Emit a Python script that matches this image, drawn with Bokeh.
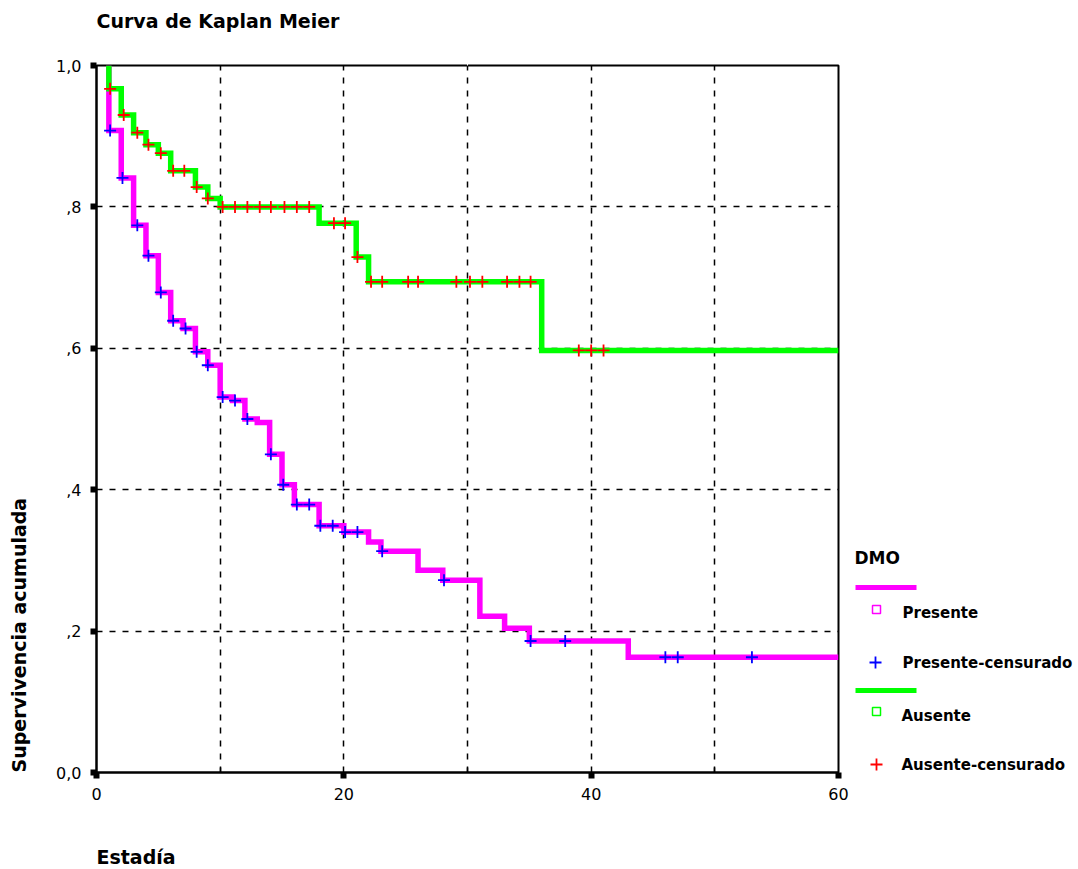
from bokeh.plotting import figure
from bokeh.models import Range1d, FixedTicker, Grid, Title, LinearAxis
from bokeh.layouts import row
from bokeh.embed import file_html
from bokeh.resources import INLINE
from bokeh.core.properties import value

# Kaplan-Meier estimates by DMO group: event times and survival after each event
pres_times = [1, 2, 3, 4, 5, 6, 7, 8, 9, 10, 11, 12, 13, 14, 15, 16, 18, 20, 22, 23, 26, 28, 31, 33, 35, 43]
pres_surv = [0.908, 0.841, 0.774, 0.731, 0.679, 0.639, 0.628, 0.595, 0.576, 0.531, 0.526, 0.500, 0.495,
             0.450, 0.407, 0.379, 0.349, 0.340, 0.326, 0.313, 0.286, 0.272, 0.221, 0.204, 0.186, 0.163]
pres_censored = [1.1, 2.1, 3.3, 4.2, 5.2, 6.2, 7.2, 8.1, 9.0, 10.2, 11.2, 12.2, 14.1, 15.1, 16.2, 17.2,
                 18.1, 19.1, 20.1, 21.1, 23.1, 28.1, 35.1, 37.9, 46.0, 47.0, 53.0]

aus_times = [1, 2, 3, 4, 5, 6, 8, 9, 10, 18, 21, 22, 36]
aus_surv = [0.967, 0.930, 0.905, 0.888, 0.876, 0.851, 0.828, 0.812, 0.800, 0.777, 0.729, 0.694, 0.597]
aus_censored = [1.1, 2.2, 3.3, 4.2, 5.2, 6.2, 7.1, 8.1, 9.0, 10.2, 11.2, 12.2, 13.2, 14.1, 15.2, 16.2,
                17.2, 19.2, 20.1, 21.1, 22.2, 23.1, 25.2, 26.0, 29.1, 30.2, 31.2, 33.2, 34.2, 35.1,
                39.0, 40.0, 41.0]

follow_up_end = 60
x_ticks = [0, 20, 40, 60]
x_minor = [10, 30, 50]
x_grid = [10, 20, 30, 40, 50]
y_ticks = [0.0, 0.2, 0.4, 0.6, 0.8, 1.0]
y_tick_labels = ["0,0", ",2", ",4", ",6", ",8", "1,0"]
y_grid = [0.2, 0.4, 0.6, 0.8]

legend_title = "DMO"
legend_labels = ["Presente", "Presente-censurado", "Ausente", "Ausente-censurado"]

MAGENTA = "#ff00ff"
GREEN = "#00ff00"
BLUE = "#0000ff"
RED = "#ff0000"


def step_xy(times, surv, end):
    xs = [times[0]] + list(times) + [end]
    ys = [1.0] + list(surv) + [surv[-1]]
    return xs, ys


def surv_at(t, times, surv):
    s = 1.0
    for ti, si in zip(times, surv):
        if ti <= t:
            s = si
    return s


def spacer_axis(depth, at):
    # a blank axis (one white tick, no label) that only reserves room before an outer title
    return LinearAxis(ticker=FixedTicker(ticks=[at]), major_tick_out=depth, major_tick_in=0,
                      major_label_standoff=0, major_label_overrides={at: ""},
                      major_label_text_font_size="0px", major_label_text_color="white",
                      axis_line_color=None, major_tick_line_color="white", major_tick_line_width=1,
                      minor_tick_line_color=None)


p = figure(
    output_backend="svg", toolbar_location=None,
    frame_width=742, frame_height=707,
    min_border_left=96, min_border_right=14, min_border_top=65, min_border_bottom=97,
    x_range=Range1d(0, 60), y_range=Range1d(0, 1),
    background_fill_color="white", border_fill_color="white",
)
p.xgrid.visible = False
p.ygrid.visible = False
p.outline_line_color = "black"
p.outline_line_width = 2

# dashed reference grid
p.add_layout(Grid(dimension=0, ticker=FixedTicker(ticks=x_grid),
                  grid_line_color="black", grid_line_width=1.5, grid_line_dash="6 7"))
p.add_layout(Grid(dimension=1, ticker=FixedTicker(ticks=y_grid),
                  grid_line_color="black", grid_line_width=1.5, grid_line_dash="6 7"))

# axes
xa = p.xaxis[0]
xa.ticker = FixedTicker(ticks=x_ticks, minor_ticks=x_minor)
xa.axis_line_width = 2
xa.major_tick_line_width = 6
xa.major_tick_out = 6
xa.major_tick_in = 0
xa.minor_tick_in = 5
xa.minor_tick_out = 0
xa.minor_tick_line_width = 1.5
xa.major_label_standoff = 9
xa.major_label_text_font = "DejaVu Sans"
xa.major_label_text_font_size = "16px"
xa.major_label_text_color = "black"

ya = p.yaxis[0]
ya.ticker = FixedTicker(ticks=y_ticks)
ya.major_label_overrides = {t: lab for t, lab in zip(y_ticks, y_tick_labels)}
ya.axis_line_width = 2
ya.major_tick_line_width = 6
ya.major_tick_out = 6
ya.major_tick_in = 0
ya.minor_tick_line_color = None
ya.major_label_standoff = 9
ya.major_label_text_font = "DejaVu Sans"
ya.major_label_text_font_size = "16px"
ya.major_label_text_color = "black"

# titles, each set apart from the frame by a blank spacer axis
title_font = dict(text_font="DejaVu Sans", text_font_style="bold", text_font_size="19px", text_color="black")
p.add_layout(spacer_axis(34, 30), "above")
p.add_layout(Title(text="Curva de Kaplan Meier", align="left", standoff=0, **title_font), "above")
p.add_layout(spacer_axis(41, 30), "below")
p.add_layout(Title(text="Estadía", align="left", standoff=0, **title_font), "below")
p.add_layout(spacer_axis(24, 0.5), "left")
p.add_layout(Title(text="Supervivencia acumulada", align="left", standoff=0, **title_font), "left")

# survival curves
px, py = step_xy(pres_times, pres_surv, follow_up_end)
ax, ay = step_xy(aus_times, aus_surv, follow_up_end)
p.step(px, py, mode="after", line_color=MAGENTA, line_width=5.5, line_join="miter")
p.step(ax, ay, mode="after", line_color=GREEN, line_width=5.5, line_join="miter")

# censored observations
pres_cy = [surv_at(t, pres_times, pres_surv) for t in pres_censored]
aus_cy = [surv_at(t, aus_times, aus_surv) for t in aus_censored]
p.scatter(pres_censored, pres_cy, marker="cross", size=12, line_color=BLUE, line_width=1.8)
p.scatter(aus_censored, aus_cy, marker="cross", size=12, line_color=RED, line_width=1.8)

# legend panel (page-pixel coordinates, y downward; its frame lines up with the plot frame)
leg = figure(
    output_backend="svg", toolbar_location=None,
    width=224, frame_height=707, min_border_left=0, min_border_right=0,
    min_border_top=65, min_border_bottom=97,
    x_range=Range1d(854, 1078), y_range=Range1d(772, 65),
    background_fill_color="white", border_fill_color="white",
)
leg.axis.visible = False
leg.grid.visible = False
leg.outline_line_color = None

leg.text([856], [557], text=[legend_title], text_font=value("DejaVu Sans"), text_font_style="bold",
         text_font_size="17px", text_baseline="middle", text_color="black")
leg.segment([857, 857], [587, 690], [918, 918], [587, 690], line_color=[MAGENTA, GREEN], line_width=5)
leg.scatter([878], [609], marker="square", size=8, fill_color=None, line_color=MAGENTA, line_width=1.5)
leg.scatter([877], [662], marker="cross", size=12, line_color=BLUE, line_width=1.8)
leg.scatter([878], [711], marker="square", size=8, fill_color=None, line_color=GREEN, line_width=1.5)
leg.scatter([878], [764], marker="cross", size=12, line_color=RED, line_width=1.8)
leg.text([904, 904, 903, 903], [612, 662, 715, 764], text=legend_labels,
         text_font=value("DejaVu Sans"), text_font_style="bold", text_font_size="15px",
         text_baseline="middle", text_color="black")

layout = row(p, leg)
open("out.html", "w").write(file_html(layout, INLINE))
